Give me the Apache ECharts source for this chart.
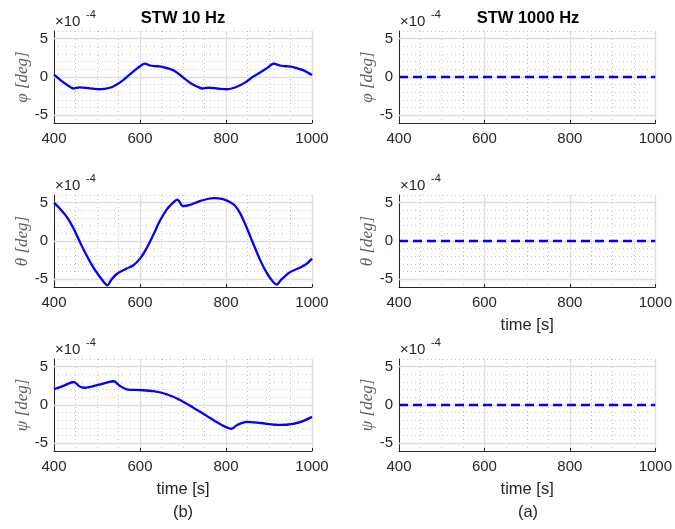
<!DOCTYPE html>
<html>
<head>
<meta charset="utf-8">
<script src="https://cdn.jsdelivr.net/npm/echarts@6/dist/echarts.min.js"></script>
<style>html,body{margin:0;padding:0;background:#fff}#main{width:675px;height:529px}</style>
</head>
<body>
<div id="main"></div>
<script>
// values in units of 1e-4 deg
var tPhi = [400, 415, 430, 445, 460, 480, 507, 530, 545, 561, 584, 600, 611, 623, 640, 654, 677, 690, 708, 722, 735, 745, 758, 780, 801, 824, 845, 863, 894, 911, 925, 940, 956, 979, 1000];
var phi10 = [0.3, -0.4, -1.0, -1.5, -1.35, -1.45, -1.6, -1.4, -1.0, -0.4, 0.7, 1.4, 1.75, 1.5, 1.4, 1.3, 0.9, 0.4, -0.4, -0.95, -1.3, -1.5, -1.4, -1.5, -1.6, -1.3, -0.7, 0.05, 1.1, 1.75, 1.5, 1.4, 1.3, 0.9, 0.25];

var tTheta = [400, 414, 429, 445, 460, 476, 491, 507, 518, 524, 534, 546, 569, 584, 600, 615, 631, 646, 662, 677, 687, 700, 716, 739, 770, 793, 817, 832, 847, 863, 878, 894, 909, 918, 929, 948, 971, 987, 1000];
var theta10 = [5.0, 4.2, 3.2, 1.7, -0.1, -1.9, -3.4, -4.7, -5.5, -5.8, -5.0, -4.3, -3.6, -3.2, -2.3, -1.0, 0.8, 2.6, 4.1, 5.0, 5.4, 4.55, 4.7, 5.2, 5.6, 5.45, 4.8, 3.7, 1.9, -0.3, -2.3, -4.1, -5.3, -5.7, -5.0, -4.1, -3.5, -3.0, -2.3];

var tPsi = [400, 422, 446, 460, 471, 498, 521, 539, 553, 569, 600, 631, 662, 693, 724, 756, 787, 813, 826, 849, 880, 926, 956, 979, 1000];
var psi10 = [2.05, 2.5, 3.0, 2.4, 2.25, 2.55, 2.9, 3.1, 2.5, 2.05, 1.95, 1.8, 1.4, 0.65, -0.35, -1.45, -2.5, -3.1, -2.6, -2.2, -2.35, -2.6, -2.45, -2.1, -1.55];

var t1000 = [400, 1000];
var phi1000 = [0, 0];
var theta1000 = [0, 0];
var psi1000 = [0, 0];

var yNames = ['\u03c6 [deg]', '\u03b8 [deg]', '\u03c8 [deg]'];
var titles = ['STW 10 Hz', 'STW 1000 Hz'];
var captions = ['(b)', '(a)'];
var majorY = [-5, 0, 5];

var leftCols = [54, 399];
var tops = [31, 195, 359];
var W = 258, H = 92;
var font = 'Liberation Sans, Arial, sans-serif';
var ink = '#262626';
var majorGrid = '#dedede';
var minorGrid = '#c6c6c6';

var panels = [
  [tPhi, phi10, 0, 0], [t1000, phi1000, 0, 1],
  [tTheta, theta10, 1, 0], [t1000, theta1000, 1, 1],
  [tPsi, psi10, 2, 0], [t1000, psi1000, 2, 1]
];

var grid = [], xAxis = [], yAxis = [], series = [], graphic = [];

panels.forEach(function (p, i) {
  var r = p[2], c = p[3];
  var showTime = (r === 2) || (r === 1 && c === 1);
  grid.push({ left: leftCols[c], top: tops[r], width: W, height: H });
  xAxis.push({
    gridIndex: i, type: 'value', min: 400, max: 1000, interval: 200,
    axisLine: { show: true, onZero: false, lineStyle: { color: ink, width: 1 } },
    axisTick: { show: true, inside: true, length: 3, lineStyle: { color: ink } },
    axisLabel: {
      color: ink, fontSize: 15, fontFamily: font, margin: 8,
      formatter: function (v) { return String(v); }
    },
    splitLine: { show: true, lineStyle: { color: majorGrid, width: 1.4 } },
    minorTick: { show: false, splitNumber: 4 },
    minorSplitLine: { show: true, lineStyle: { color: minorGrid, type: [1, 3] } },
    name: showTime ? 'time [s]' : '',
    nameLocation: 'middle', nameGap: 30,
    nameTextStyle: { color: ink, fontSize: 16.5, fontFamily: font }
  });
  yAxis.push({
    gridIndex: i, type: 'value', min: -6, max: 6, interval: 1,
    axisLine: { show: true, onZero: false, lineStyle: { color: ink, width: 1 } },
    axisTick: { show: false },
    axisLabel: {
      color: ink, fontSize: 15, fontFamily: font, margin: 6,
      formatter: function (v) { return v % 5 === 0 ? String(v) : ''; }
    },
    splitLine: { show: true, lineStyle: { color: minorGrid, type: [1, 3] } },
    name: yNames[r], nameLocation: 'middle', nameGap: 18,
    nameTextStyle: { color: '#606060', fontSize: 17, fontStyle: 'italic', fontFamily: 'Liberation Serif, serif' }
  });
  series.push({
    type: 'line', xAxisIndex: i, yAxisIndex: i,
    data: p[0].map(function (t, k) { return [t, p[1][k]]; }),
    showSymbol: false, smooth: c === 0 ? 0.3 : false,
    lineStyle: { color: '#0000ff', width: 2.3, type: c === 0 ? 'solid' : [9, 5] },
    markLine: {
      silent: true, z: 1, symbol: ['none', 'none'], label: { show: false },
      lineStyle: { color: majorGrid, type: 'solid', width: 1.4 },
      data: majorY.map(function (v) { return { yAxis: v }; })
    }
  });
  graphic.push({
    type: 'text', x: leftCols[c] + 1, y: tops[r] - 9,
    style: { text: '\u00d710', fill: ink, fontSize: 15, fontFamily: font, textVerticalAlign: 'middle' }
  });
  graphic.push({
    type: 'text', x: leftCols[c] + 32, y: tops[r] - 16,
    style: { text: '-4', fill: ink, fontSize: 11, fontFamily: font, textVerticalAlign: 'middle' }
  });
});

titles.forEach(function (t, c) {
  graphic.push({
    type: 'text', x: leftCols[c] + W / 2, y: 18,
    style: { text: t, fill: '#000', fontSize: 16.5, fontWeight: 'bold', fontFamily: font, textAlign: 'center', textVerticalAlign: 'middle' }
  });
  graphic.push({
    type: 'text', x: leftCols[c] + W / 2, y: 512,
    style: { text: captions[c], fill: ink, fontSize: 16.5, fontFamily: font, textAlign: 'center', textVerticalAlign: 'middle' }
  });
});

var myChart = echarts.init(document.getElementById('main'));
myChart.setOption({
  animation: false,
  backgroundColor: '#fff',
  grid: grid, xAxis: xAxis, yAxis: yAxis, series: series, graphic: graphic
});
</script>
</body>
</html>
